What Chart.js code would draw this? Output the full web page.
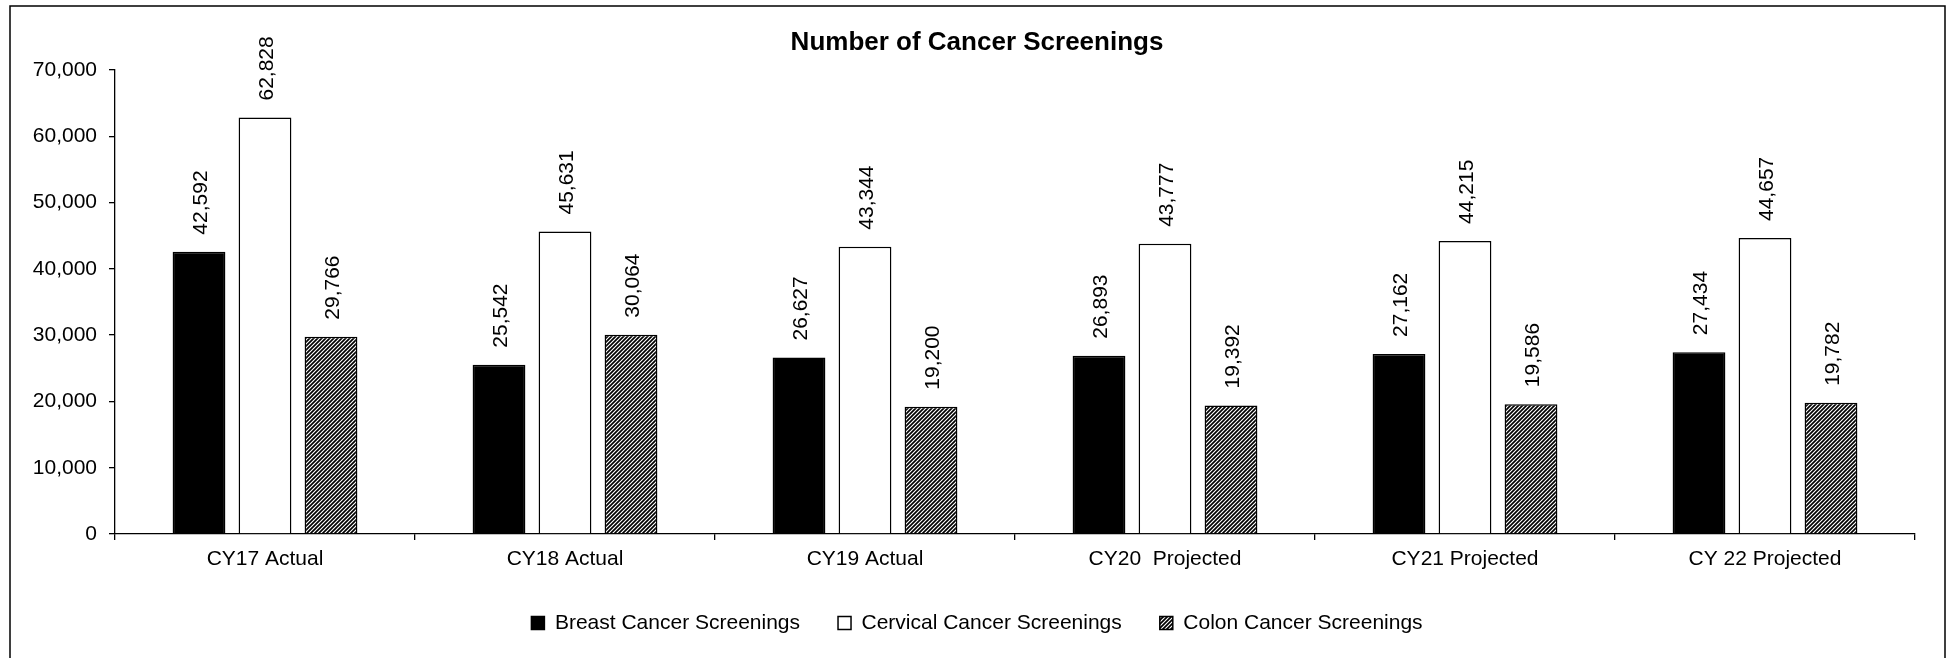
<!DOCTYPE html>
<html>
<head>
<meta charset="utf-8">
<title>Number of Cancer Screenings</title>
<script src="https://cdn.jsdelivr.net/npm/chart.js@4.4.1/dist/chart.umd.min.js"></script>
<style>
  html, body { margin: 0; padding: 0; background: #fff; }
  canvas { display: block; }
</style>
</head>
<body>
<canvas id="barrasScreenings" width="1954" height="658"></canvas>
<script>
// Datos
const categorias = ['CY17 Actual', 'CY18 Actual', 'CY19 Actual', 'CY20  Projected', 'CY21 Projected', 'CY 22 Projected'];
const breast = [42592, 25542, 26627, 26893, 27162, 27434];
const cervical = [62828, 45631, 43344, 43777, 44215, 44657];
const colon = [29766, 30064, 19200, 19392, 19586, 19782];
const ticksY = [0, 10000, 20000, 30000, 40000, 50000, 60000, 70000];

(function(){
  const FUENTE = "'Liberation Sans', Arial, sans-serif";
  const numero = (v) => Number(v).toLocaleString('en-US');

  // trama diagonal tipo Excel "/"
  const crearTrama = () => {
    const c = document.createElement('canvas');
    c.width = 4; c.height = 4;
    const g = c.getContext('2d');
    g.fillStyle = '#fff';
    g.fillRect(0, 0, 4, 4);
    g.strokeStyle = '#000';
    g.lineWidth = 1.7;
    g.beginPath();
    g.moveTo(-1, 5); g.lineTo(5, -1);
    g.moveTo(-3, 3); g.lineTo(3, -3);
    g.moveTo(1, 7); g.lineTo(7, 1);
    g.stroke();
    return document.getElementById('barrasScreenings').getContext('2d').createPattern(c, 'repeat');
  };

  // marco exterior (sin borde inferior, queda fuera del recorte)
  const marco = {
    id: 'marco',
    beforeDraw(chart) {
      const ctx = chart.ctx;
      ctx.save();
      ctx.strokeStyle = '#000';
      ctx.lineWidth = 1.5;
      ctx.beginPath();
      ctx.moveTo(10, 700);
      ctx.lineTo(10, 6);
      ctx.lineTo(1945, 6);
      ctx.lineTo(1945, 700);
      ctx.stroke();
      ctx.restore();
    }
  };

  // etiquetas verticales sobre cada barra
  const etiquetas = {
    id: 'etiquetas',
    afterDatasetsDraw(chart) {
      const ctx = chart.ctx;
      ctx.save();
      ctx.fillStyle = '#000';
      ctx.font = '21px ' + FUENTE;
      ctx.textAlign = 'left';
      ctx.textBaseline = 'middle';
      chart.data.datasets.forEach((ds, i) => {
        chart.getDatasetMeta(i).data.forEach((bar, j) => {
          ctx.save();
          ctx.translate(bar.x + 2, bar.y - 17);
          ctx.rotate(-Math.PI / 2);
          ctx.fillText(numero(ds.data[j]), 0, 0);
          ctx.restore();
        });
      });
      ctx.restore();
    }
  };

  const iniciar = () => {
    const ctx = document.getElementById('barrasScreenings');
    const trama = crearTrama();

    new Chart(ctx, {
      type: 'bar',
      data: {
        labels: categorias,
        datasets: [
          { label: 'Breast Cancer Screenings', data: breast, backgroundColor: '#000', borderColor: '#000', borderWidth: 1.5 },
          { label: 'Cervical Cancer Screenings', data: cervical, backgroundColor: '#fff', borderColor: '#000', borderWidth: 1.5 },
          { label: 'Colon Cancer Screenings', data: colon, backgroundColor: trama, borderColor: '#000', borderWidth: 1.5 }
        ]
      },
      options: {
        responsive: false,
        animation: false,
        devicePixelRatio: 1,
        categoryPercentage: 0.66,
        barPercentage: 0.8,
        layout: { padding: { left: 0, right: 0, top: 0, bottom: 14.5 } },
        plugins: {
          title: {
            display: true,
            text: 'Number of Cancer Screenings',
            color: '#000',
            font: { family: FUENTE, size: 26, weight: 'bold' },
            padding: { top: 27, bottom: 11.8 }
          },
          legend: {
            position: 'bottom',
            labels: {
              color: '#000',
              font: { family: FUENTE, size: 21 },
              boxWidth: 13,
              boxHeight: 13,
              padding: 38
            }
          },
          tooltip: { enabled: false }
        },
        scales: {
          x: {
            offset: true,
            grid: { offset: true, drawOnChartArea: false, drawTicks: true, tickLength: 6, color: '#000', lineWidth: 1.3 },
            border: { display: true, color: '#000', width: 1.3 },
            ticks: { color: '#000', font: { family: FUENTE, size: 21 }, padding: 7, maxRotation: 0, autoSkip: false },
            afterFit: (s) => { s.height = 40.5; }
          },
          y: {
            min: ticksY[0],
            max: ticksY[ticksY.length - 1],
            afterBuildTicks: (s) => { s.ticks = ticksY.map(v => ({ value: v })); },
            grid: { drawOnChartArea: false, drawTicks: true, tickLength: 6, color: '#000', lineWidth: 1.3 },
            border: { display: true, color: '#000', width: 1.3 },
            ticks: { color: '#000', font: { family: FUENTE, size: 21 }, padding: 12, callback: (v) => numero(v) },
            afterFit: (s) => { s.width = 115; }
          },
          // eje vacío a la derecha solo para dejar el margen del original
          margen: {
            type: 'linear',
            position: 'right',
            display: true,
            grid: { display: false },
            border: { display: false },
            ticks: { display: false },
            afterFit: (s) => { s.width = 39; }
          }
        }
      },
      plugins: [marco, etiquetas]
    });
  };

  if (document.readyState === 'loading') {
    document.addEventListener('DOMContentLoaded', iniciar);
  } else {
    iniciar();
  }
})();
</script>
</body>
</html>
